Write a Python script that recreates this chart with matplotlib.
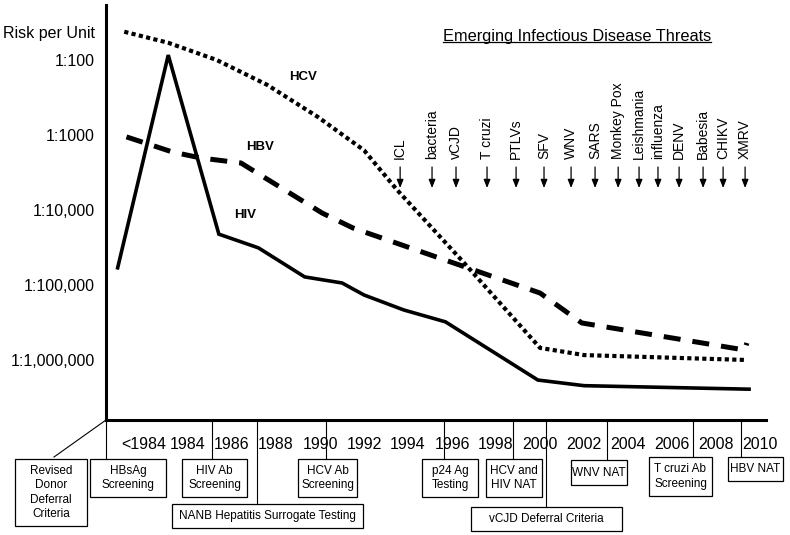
import matplotlib
matplotlib.use("Agg")
import matplotlib.pyplot as plt
import numpy as np
from matplotlib.transforms import Affine2D, blended_transform_factory
from matplotlib.patches import Rectangle
from matplotlib.lines import Line2D

plt.rcParams['font.family'] = ['Liberation Sans', 'DejaVu Sans']

# ---------------- data ----------------
hiv_years = [1980.8, 1983.1, 1985.4, 1987.2, 1989.3, 1991.0, 1992.0, 1993.8, 1995.7, 1999.9, 2002.0, 2009.5]
hiv_denom = [59000, 86, 21000, 32000, 78000, 94000, 136000, 215000, 310000, 1850000, 2200000, 2450000]

hcv_years = [1981.1, 1983.1, 1985.3, 1987.6, 1989.9, 1992.0, 1993.5, 1996.5, 2000.0, 2002.0, 2009.4]
hcv_denom = [42, 59, 100, 215, 575, 1600, 5400, 49000, 690000, 860000, 1000000]

hbv_years = [1981.2, 1983.3, 1984.6, 1986.4, 1990.1, 1991.5, 2000.0, 2001.9, 2009.3, 2009.4]
hbv_denom = [1060, 1690, 2030, 2360, 11000, 17400, 128000, 321000, 736000, 593000]

tick_years = [1982, 1984, 1986, 1988, 1990, 1992, 1994, 1996, 1998, 2000, 2002, 2004, 2006, 2008, 2010]
tick_labels = ['<1984', '1984', '1986', '1988', '1990', '1992', '1994', '1996', '1998',
               '2000', '2002', '2004', '2006', '2008', '2010']

y_denoms = [100, 1000, 10000, 100000, 1000000]
y_labels = ['1:100', '1:1000', '1:10,000', '1:100,000', '1:1,000,000']

threat_names = ['ICL', 'bacteria', 'vCJD', 'T cruzi', 'PTLVs', 'SFV', 'WNV', 'SARS',
                'Monkey Pox', 'Leishmania', 'influenza', 'DENV', 'Babesia', 'CHIKV', 'XMRV']
threat_years = [1993.64, 1995.09, 1996.18, 1997.59, 1998.91, 2000.18, 2001.41, 2002.5,
                2003.55, 2004.5, 2005.36, 2006.32, 2007.41, 2008.32, 2009.32]

event_labels = ['HBsAg\nScreening', 'HIV Ab\nScreening', 'NANB Hepatitis Surrogate Testing',
                'HCV Ab\nScreening', 'p24 Ag\nTesting', 'HCV and\nHIV NAT',
                'vCJD Deferral Criteria', 'WNV NAT', 'T cruzi Ab\nScreening', 'HBV NAT']
event_years = [1980.27, 1985.09, 1987.14, 1990.27, 1995.64, 1998.77, 2000.27, 2003.05, 2006.95, 2009.14]
# box layout (figure pixels, from top-left): left, top, right, bottom
event_boxes = [(90, 459, 166, 497), (182, 459, 247, 497), (172, 504, 363, 528),
               (298, 459, 357, 497), (422, 459, 478, 497), (486, 459, 542, 497),
               (471, 507, 622, 531), (571, 460, 627, 485), (649, 457, 712, 496),
               (728, 457, 783, 481)]

# ---------------- figure ----------------
W, H = 790, 535
fig = plt.figure(figsize=(W / 100, H / 100), dpi=100)
ax_l, ax_r, ax_t, ax_b = 106, 766, 5, 420
ax = fig.add_axes([ax_l / W, 1 - ax_b / H, (ax_r - ax_l) / W, (ax_b - ax_t) / H])

pix = Affine2D().scale(1 / W, -1 / H).translate(0, 1) + fig.transFigure
xpix = blended_transform_factory(ax.transData, pix)

def inv(d):
    return 1.0 / np.asarray(d, dtype=float)

ax.plot(hiv_years, inv(hiv_denom), color='black', lw=2.6, solid_joinstyle='miter')
ax.plot(hbv_years, inv(hbv_denom), color='black', lw=3.6, linestyle=(0, (3.4, 2.4)),
        dash_capstyle='butt')
ax.plot(hcv_years, inv(hcv_denom), color='black', lw=3.0, linestyle=(0, (1, 0.8)),
        dash_capstyle='butt')

ax.set_yscale('log')
ax.set_ylim(10 ** -6.8, 10 ** -1.267)
ax.set_xlim(1980.27, 2010.27)

ax.set_yticks([1.0 / d for d in y_denoms] + [10 ** -1.627])
ax.set_yticklabels(y_labels + ['Risk per Unit'])
ax.yaxis.set_minor_locator(matplotlib.ticker.NullLocator())
ax.set_xticks(tick_years)
ax.set_xticklabels(tick_labels)
ax.tick_params(axis='y', length=0, pad=8, labelsize=11.5)
ax.tick_params(axis='x', length=0, pad=12, labelsize=11.5)

for s in ['top', 'right']:
    ax.spines[s].set_visible(False)
ax.spines['left'].set_linewidth(2.2)
ax.spines['bottom'].set_linewidth(2.2)
ax.patch.set_visible(False)

# line labels
ax.text(1989.23, 10 ** -2.227, 'HCV', fontsize=9.5, fontweight='bold', ha='center', va='center')
ax.text(1987.27, 10 ** -3.16, 'HBV', fontsize=9.5, fontweight='bold', ha='center', va='center')
ax.text(1986.59, 10 ** -4.067, 'HIV', fontsize=9.5, fontweight='bold', ha='center', va='center')

# title with underline
fig.text(577 / W, 1 - 36 / H, 'Emerging Infectious Disease Threats', fontsize=11.8,
         ha='center', va='center')
fig.add_artist(Line2D([443, 711], [42, 42], transform=pix, color='black', lw=0.9))

# threat arrows
for name, yr in zip(threat_names, threat_years):
    ax.annotate('', xy=(yr, 188), xycoords=xpix, xytext=(yr, 167), textcoords=xpix,
                arrowprops=dict(arrowstyle='-|>,head_length=0.5,head_width=0.2',
                                color='black', lw=0.9, shrinkA=0, shrinkB=0),
                annotation_clip=False)
    ax.text(yr, 159, name, transform=xpix, rotation=90, ha='center', va='bottom',
            fontsize=10, clip_on=False)

# events below axis
for lab, yr, (l, t, r, b) in zip(event_labels, event_years, event_boxes):
    fig.add_artist(Line2D([yr, yr], [ax_b, t], transform=xpix, color='black', lw=0.8))
    fig.add_artist(Rectangle((l, t), r - l, b - t, transform=pix, facecolor='white',
                             edgecolor='black', lw=0.9))
    fig.text((l + r) / 2 / W, 1 - (t + b) / 2 / H, lab, ha='center', va='center',
             fontsize=8.5, linespacing=1.25)

# revised donor deferral criteria (diagonal connector from origin)
fig.add_artist(Line2D([ax_l, 54], [ax_b, 457], transform=pix, color='black', lw=0.8))
fig.add_artist(Rectangle((15, 459), 72, 67, transform=pix, facecolor='white',
                         edgecolor='black', lw=0.9))
fig.text(51 / W, 1 - 492.5 / H, 'Revised\nDonor\nDeferral\nCriteria', ha='center',
         va='center', fontsize=8.5, linespacing=1.25)

fig.savefig('out.png', dpi=100)
